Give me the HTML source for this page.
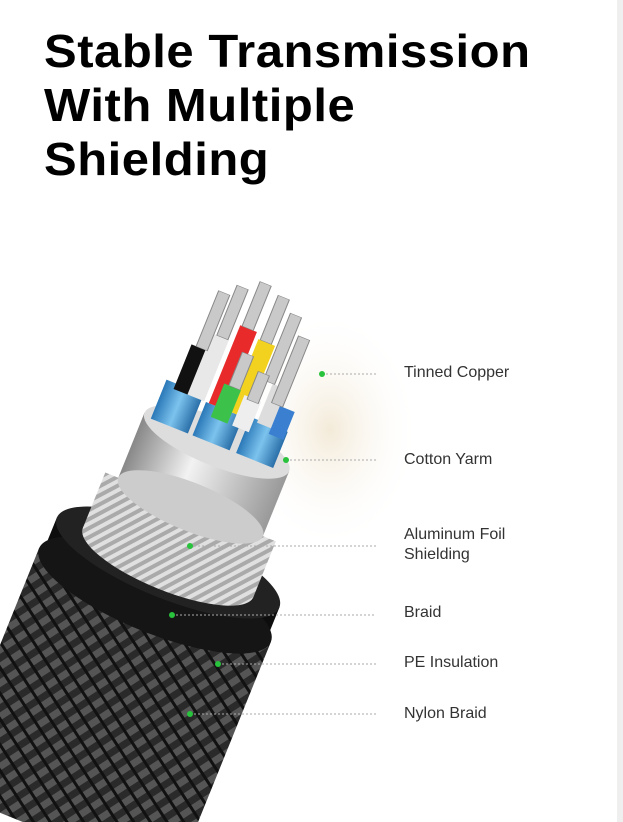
<!DOCTYPE html>
<html><head><meta charset="utf-8"><style>
html,body{margin:0;padding:0;overflow:hidden}
body{width:623px;height:822px;position:relative;background:#fff;overflow:hidden;font-family:"Liberation Sans",sans-serif}
.strip{position:absolute;left:617px;top:0;width:6px;height:822px;background:#efefef}
h1{position:absolute;left:44px;top:24px;margin:0;font-size:46px;line-height:54px;font-weight:bold;color:#000;letter-spacing:0.5px;transform:scaleX(1.065);transform-origin:0 0;white-space:nowrap}
.l{position:absolute;left:404px;font-size:16px;color:#333;line-height:20px}
svg{overflow:hidden}
</style></head><body>
<div class="strip"></div>
<h1>Stable Transmission<br>With Multiple<br>Shielding</h1>
<svg width="617" height="822" style="position:absolute;left:0;top:0">
<defs>
<pattern id="nb" width="14" height="14" patternUnits="userSpaceOnUse" patternTransform="rotate(35)">
<rect width="14" height="14" fill="#2a2a2a"/><rect width="7" height="14" fill="#555"/><rect y="0" width="14" height="3" fill="#111"/></pattern>
<pattern id="sb" width="8" height="8" patternUnits="userSpaceOnUse" patternTransform="rotate(40)">
<rect width="8" height="8" fill="#aaa"/><rect width="4" height="8" fill="#e0e0e0"/></pattern>
<linearGradient id="fo" x1="0" x2="1"><stop offset="0" stop-color="#888"/><stop offset=".4" stop-color="#f2f2f2"/><stop offset="1" stop-color="#999"/></linearGradient>
<linearGradient id="bl" x1="0" x2="1"><stop offset="0" stop-color="#2a78b8"/><stop offset=".5" stop-color="#7cc3ee"/><stop offset="1" stop-color="#2a6fa8"/></linearGradient>
<radialGradient id="glow" cx=".5" cy=".5" r=".5"><stop offset="0" stop-color="#f3ead8"/><stop offset="1" stop-color="#fff" stop-opacity="0"/></radialGradient>
</defs>
<ellipse cx="330" cy="430" rx="90" ry="120" fill="url(#glow)"/>
<g transform="translate(155,595) rotate(22)">
<rect x="-125" y="0" width="250" height="260" fill="url(#nb)"/>
<rect x="-120" y="-35" width="240" height="35" fill="#0d0d0d"/>
<ellipse cx="0" cy="0" rx="125" ry="38" fill="#151515"/>
<ellipse cx="0" cy="-35" rx="120" ry="36" fill="#222"/>
<rect x="-92" y="-95" width="184" height="60" fill="url(#sb)"/>
<ellipse cx="0" cy="-35" rx="92" ry="28" fill="url(#sb)"/>
<rect x="-78" y="-165" width="156" height="70" fill="url(#fo)"/>
<ellipse cx="0" cy="-95" rx="78" ry="24" fill="#ccc"/>
<ellipse cx="0" cy="-165" rx="78" ry="24" fill="#ddd"/>
<g transform="translate(0,-165) scale(1,0.6) translate(0,165)">
<rect x="-70" y="-230" width="40" height="70" fill="url(#bl)"/>
<rect x="-25" y="-220" width="40" height="60" fill="url(#bl)"/>
<rect x="22" y="-225" width="40" height="65" fill="url(#bl)"/>
<rect x="-60" y="-300" width="16" height="80" fill="#111"/>
<rect x="-45" y="-330" width="18" height="110" fill="#e8e8e8"/>
<rect x="-22" y="-360" width="18" height="140" fill="#e82a2a"/>
<rect x="0" y="-350" width="18" height="130" fill="#f2d21e"/>
<rect x="-15" y="-260" width="18" height="60" fill="#3cc24a"/>
<rect x="8" y="-255" width="18" height="55" fill="#eee"/>
<rect x="30" y="-290" width="18" height="70" fill="#ddd"/>
<rect x="45" y="-260" width="16" height="50" fill="#3a7fd0"/>
<g fill="#c9c9c9" stroke="#888" stroke-width="1">
<rect x="-55" y="-400" width="12" height="100"/><rect x="-40" y="-420" width="12" height="90"/>
<rect x="-20" y="-440" width="12" height="80"/><rect x="2" y="-430" width="12" height="80"/>
<rect x="20" y="-410" width="12" height="120"/><rect x="36" y="-380" width="12" height="120"/>
<rect x="-10" y="-320" width="12" height="60"/><rect x="12" y="-300" width="12" height="50"/>
</g></g>
</g>
<g stroke="#aaa" stroke-width="1" stroke-dasharray="2,2">
<line x1="322" y1="374" x2="376" y2="374"/><line x1="286" y1="460" x2="376" y2="460"/>
<line x1="190" y1="546" x2="376" y2="546"/><line x1="172" y1="615" x2="376" y2="615"/>
<line x1="218" y1="664" x2="376" y2="664"/><line x1="190" y1="714" x2="376" y2="714"/>
</g>
<g fill="#28c23c"><circle cx="322" cy="374" r="3"/><circle cx="286" cy="460" r="3"/><circle cx="190" cy="546" r="3"/><circle cx="172" cy="615" r="3"/><circle cx="218" cy="664" r="3"/><circle cx="190" cy="714" r="3"/></g>
</svg>
<div class="l" style="top:363px">Tinned Copper</div>
<div class="l" style="top:450px">Cotton Yarm</div>
<div class="l" style="top:525px">Aluminum Foil<br>Shielding</div>
<div class="l" style="top:603px">Braid</div>
<div class="l" style="top:653px">PE Insulation</div>
<div class="l" style="top:704px">Nylon Braid</div>
</body></html>
